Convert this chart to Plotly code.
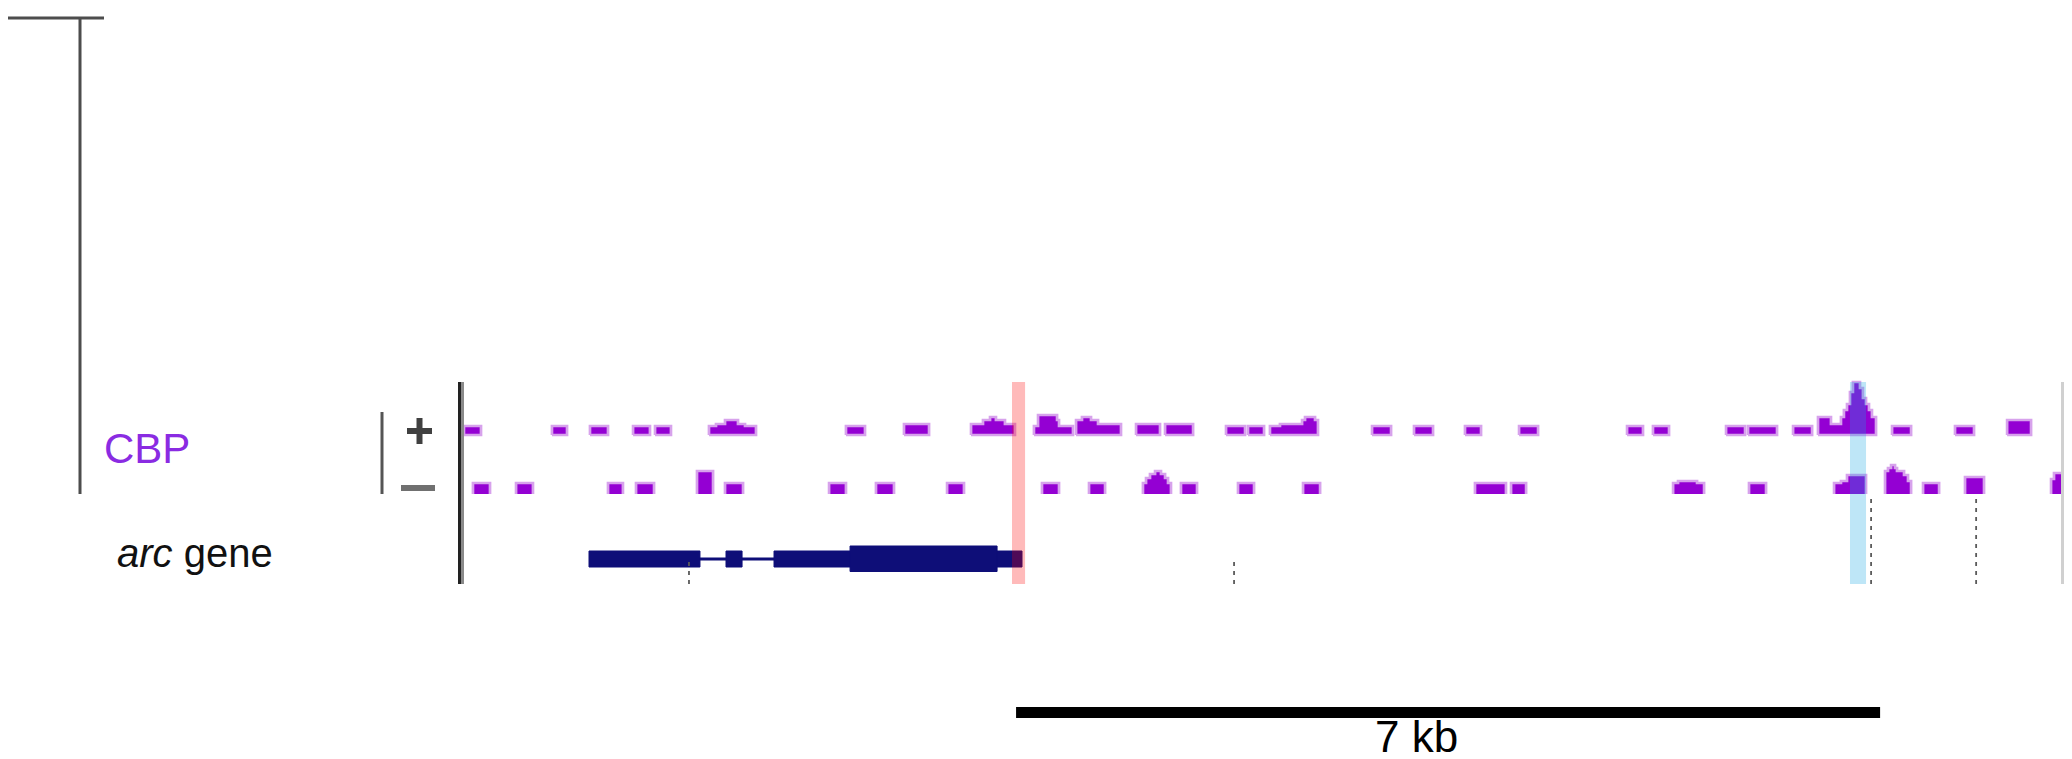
import plotly.graph_objects as go

W, H = 2072, 759

# ---------------- data (positions in kb from the left edge of the window) ----------------
window_kb = 12.995

# CBP ChIP signal, plus strand (segments: start, end, signal)
plus_start = [0.024, 0.737, 1.045, 1.394, 1.572,
              2.009, 2.066, 2.139, 2.244, 2.301,
              3.119, 3.589,
              4.132, 4.229, 4.286, 4.334, 4.407,
              4.642, 4.675, 4.829, 4.845,
              4.983, 5.031, 5.104, 5.161,
              5.469, 5.704, 6.198, 6.376,
              6.554, 6.635, 6.814, 6.838, 6.919,
              7.381, 7.721, 8.134, 8.572, 9.447, 9.657, 10.249, 10.427, 10.792,
              10.994, 11.099, 11.180, 11.204, 11.229, 11.253, 11.277, 11.334, 11.358, 11.383, 11.407, 11.431,
              11.594, 12.104, 12.526]
plus_end = [0.162, 0.859, 1.191, 1.531, 1.701,
            2.066, 2.139, 2.244, 2.301, 2.390,
            3.273, 3.792,
            4.229, 4.286, 4.334, 4.407, 4.488,
            4.675, 4.829, 4.845, 4.958,
            5.031, 5.104, 5.161, 5.347,
            5.663, 5.931, 6.352, 6.506,
            6.635, 6.814, 6.838, 6.919, 6.943,
            7.535, 7.875, 8.264, 8.726, 9.576, 9.787, 10.403, 10.662, 10.946,
            11.099, 11.180, 11.204, 11.229, 11.253, 11.277, 11.334, 11.358, 11.383, 11.407, 11.431, 11.464,
            11.748, 12.258, 12.720]
plus_signal = [9, 9, 9, 9, 9,
               9, 11, 15, 11, 9,
               9, 11,
               11, 15, 18, 15, 11,
               9, 20, 15, 9,
               15, 18, 15, 11,
               11, 11, 9, 9,
               9, 11, 15, 18, 15,
               9, 9, 9, 9, 9, 9, 9, 9, 9,
               18, 11, 18, 25, 31, 43, 53, 47, 37, 31, 25, 18,
               9, 9, 15]

# CBP ChIP signal, minus strand
minus_start = [0.097, 0.446, 1.191, 1.418, 1.912, 2.139, 2.982, 3.362, 3.938, 4.707, 5.088,
               5.525, 5.550, 5.582, 5.623, 5.671, 5.704, 5.728,
               5.833, 6.295, 6.822, 8.215, 8.507,
               9.820, 9.860, 10.014,
               10.435,
               11.124, 11.180, 11.229,
               11.537, 11.561, 11.586, 11.618, 11.634, 11.691, 11.723,
               11.845, 12.185,
               12.882, 12.906]
minus_end = [0.235, 0.583, 1.312, 1.564, 2.042, 2.285, 3.119, 3.508, 4.075, 4.845, 5.218,
             5.550, 5.582, 5.623, 5.671, 5.704, 5.728, 5.752,
             5.963, 6.425, 6.960, 8.466, 8.629,
             9.860, 10.014, 10.071,
             10.573,
             11.180, 11.229, 11.383,
             11.561, 11.586, 11.618, 11.634, 11.691, 11.723, 11.748,
             11.975, 12.339,
             12.906, 12.995]
minus_signal = [11, 11, 11, 11, 23, 11, 11, 11, 11, 11, 11,
                11, 16, 20, 23, 20, 16, 11,
                11, 11, 11, 11, 11,
                11, 13, 11,
                11,
                11, 13, 19,
                23, 26, 29, 26, 23, 19, 13,
                11, 17,
                15, 21]

# arc gene model
exon_start = [1.037, 2.147, 2.536]
exon_end = [1.936, 2.277, 4.545]
cds_start, cds_end = 3.152, 4.343

# annotated sites (dotted ticks) and their extent in the gene track
site_pos = [1.847, 6.263, 11.424, 12.275]
site_top = [26, 26, 87, 89]

# highlighted regions
pink_region = [4.464, 4.570]
blue_region = [11.253, 11.383]

# scale bar
scale_start_kb = 4.497
scale_len_kb = 7.0
scale_label = "7 kb"
scale_label_pos = 7.74

track_label = "CBP"
gene_label = "<i>arc</i> gene"

# ---------------- helpers ----------------
def X(px):
    return px / W


def Y(py):
    return 1 - py / H


def step_paths(starts, ends, vals, base):
    xs, ys = [], []
    i, n = 0, len(starts)
    while i < n:
        run = [i]
        while i + 1 < n and abs(starts[i + 1] - ends[i]) < 1e-6:
            i += 1
            run.append(i)
        xs.append(starts[run[0]]); ys.append(base)
        for j in run:
            xs += [starts[j], ends[j]]
            ys += [vals[j], vals[j]]
        xs.append(ends[run[-1]]); ys.append(base)
        xs.append(starts[run[0]]); ys.append(base)
        xs.append(None); ys.append(None)
        i += 1
    return xs, ys


PURPLE = "#9400d3"
HALO = "#d7a2ec"
NAVY = "#0e0e78"

fig = go.Figure()

# plus strand
px_, py_ = step_paths(plus_start, plus_end, plus_signal, 0)
fig.add_trace(go.Scatter(x=px_, y=py_, mode="lines", fill="toself", fillcolor=PURPLE,
                         line=dict(color=HALO, width=2.7), xaxis="x", yaxis="y",
                         hoverinfo="skip"))
# minus strand
mx_, my_ = step_paths(minus_start, minus_end, minus_signal, -4)
fig.add_trace(go.Scatter(x=mx_, y=my_, mode="lines", fill="toself", fillcolor=PURPLE,
                         line=dict(color=HALO, width=2.7), xaxis="x", yaxis="y2",
                         hoverinfo="skip"))

# gene: intron line
fig.add_trace(go.Scatter(x=[exon_start[0], exon_end[-1]], y=[25, 25], mode="lines",
                         line=dict(color=NAVY, width=3), xaxis="x", yaxis="y3",
                         hoverinfo="skip"))
# gene: exons (UTR height) and CDS (full height)
gx, gy = [], []
for s, e in zip(exon_start, exon_end):
    gx += [s, e, e, s, s, None]
    gy += [17, 17, 33, 33, 17, None]
gx += [cds_start, cds_end, cds_end, cds_start, cds_start, None]
gy += [12.5, 12.5, 38, 38, 12.5, None]
fig.add_trace(go.Scatter(x=gx, y=gy, mode="lines", fill="toself", fillcolor=NAVY,
                         line=dict(color=NAVY, width=1), xaxis="x", yaxis="y3",
                         hoverinfo="skip"))
# dotted site ticks
for p, t in zip(site_pos, site_top):
    fig.add_trace(go.Scatter(x=[p, p], y=[0, t], mode="lines",
                             line=dict(color="#5a5a5a", width=1.8, dash="4px,5px"),
                             xaxis="x", yaxis="y3", hoverinfo="skip"))

# scale bar
fig.add_trace(go.Scatter(x=[scale_start_kb, scale_start_kb + scale_len_kb], y=[25.5, 25.5],
                         mode="lines", line=dict(color="black", width=11),
                         xaxis="x", yaxis="y4", hoverinfo="skip"))

shapes = []


def pline(x0, y0, x1, y1, color, width):
    shapes.append(dict(type="line", xref="paper", yref="paper",
                       x0=X(x0), y0=Y(y0), x1=X(x1), y1=Y(y1),
                       line=dict(color=color, width=width)))


# top-left bracket
pline(0, 10, 96, 10, "#4d4d4d", 3)
pline(72, 10, 72, 486, "#4d4d4d", 3)
# strand divider and +/- marks
pline(374, 404, 374, 486, "#555555", 3)
pline(399, 423, 424, 423, "#404040", 6)
pline(411.5, 410, 411.5, 436, "#404040", 6)
pline(393, 480, 427, 480, "#707070", 6)
# track borders
pline(451.5, 374, 451.5, 576, "#222222", 3)
pline(454.5, 374, 454.5, 576, "#8a8a8a", 3)
shapes.append(dict(type="rect", xref="paper", yref="paper", x0=X(2053), x1=X(2062),
                   y0=Y(576), y1=Y(374), fillcolor="#d0d0d0", line=dict(width=0)))
pline(2057.5, 374, 2057.5, 576, "#000000", 3)

# highlight bands
for reg, col in ((pink_region, "rgba(255,0,0,0.27)"), (blue_region, "rgba(15,163,225,0.27)")):
    shapes.append(dict(type="rect", xref="x", yref="paper", x0=reg[0], x1=reg[1],
                       y0=Y(576), y1=Y(374), fillcolor=col, line=dict(width=0),
                       layer="above"))

FONT = "Liberation Sans, Arial, Helvetica, sans-serif"
annotations = [
    dict(text=track_label, xref="paper", yref="paper", x=X(95), y=Y(440),
         xanchor="left", yanchor="middle", showarrow=False, borderpad=0,
         font=dict(family=FONT, size=42, color="#8a2be2")),
    dict(text=gene_label, xref="paper", yref="paper", x=X(108), y=Y(545),
         xanchor="left", yanchor="middle", showarrow=False, borderpad=0,
         font=dict(family=FONT, size=40, color="#111111")),
    dict(text=scale_label, xref="x", yref="paper", x=scale_label_pos, y=Y(728),
         xanchor="center", yanchor="middle", showarrow=False, borderpad=0,
         font=dict(family=FONT, size=44, color="#000000")),
]

ax_hidden = dict(visible=False, showgrid=False, zeroline=False, fixedrange=True)
fig.update_layout(
    width=W, height=H,
    margin=dict(l=0, r=0, t=0, b=0, pad=0),
    paper_bgcolor="white", plot_bgcolor="rgba(0,0,0,0)",
    showlegend=False, hovermode=False,
    xaxis=dict(domain=[X(453), X(2057)], range=[0, window_kb], **ax_hidden),
    yaxis=dict(domain=[Y(430), Y(367)], range=[-3, 60], **ax_hidden),
    yaxis2=dict(domain=[Y(486), Y(426)], range=[0, 60], **ax_hidden),
    yaxis3=dict(domain=[Y(576), Y(486)], range=[0, 90], **ax_hidden),
    yaxis4=dict(domain=[Y(730), Y(680)], range=[0, 50], **ax_hidden),
    shapes=shapes,
    annotations=annotations,
)

fig.write_html("out.html")
